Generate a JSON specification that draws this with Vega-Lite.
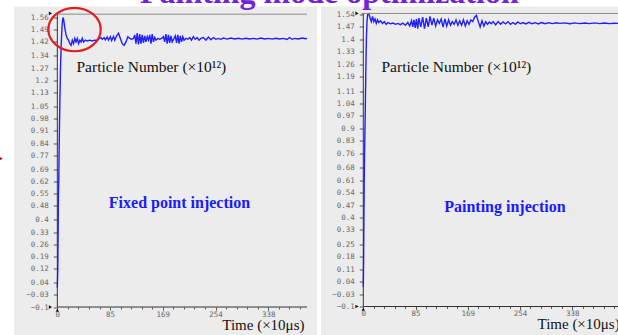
{
  "$schema": "https://vega.github.io/schema/vega-lite/v6.json",
  "background": "white",
  "padding": {"left": -6, "top": -23.5, "right": 0, "bottom": 0},
  "title": {
    "text": "Painting mode optimization",
    "font": "Liberation Serif",
    "fontSize": 32,
    "fontWeight": "bold",
    "color": "#7422d6",
    "anchor": "start",
    "dx": 146,
    "baseline": "alphabetic",
    "offset": -31.5
  },
  "spacing": 4,
  "config": {
    "view": {"fill": "#ececec", "stroke": null},
    "axis": {
      "grid": false,
      "domain": false,
      "labelOverlap": false,
      "tickCount": 100,
      "labelFont": "DejaVu Sans Mono",
      "labelFontSize": 7.5,
      "labelColor": "#6a6a6a",
      "tickColor": "#555555",
      "titleFont": "Liberation Serif",
      "titleFontSize": 15,
      "titleFontWeight": "normal",
      "titleColor": "#111111"
    }
  },
  "datasets": {
    "fixed": [
      {"t": 0, "v": 0.01}, {"t": 0.8, "v": 0.12}, {"t": 1.2, "v": 0.3}, {"t": 1.8, "v": 0.55},
      {"t": 2.3, "v": 0.62}, {"t": 2.8, "v": 0.78}, {"t": 3.5, "v": 0.95}, {"t": 4.2, "v": 1.1},
      {"t": 5, "v": 1.25}, {"t": 6, "v": 1.38}, {"t": 7, "v": 1.47}, {"t": 8, "v": 1.53},
      {"t": 9, "v": 1.56}, {"t": 10, "v": 1.55}, {"t": 12, "v": 1.5}, {"t": 14, "v": 1.46},
      {"t": 16, "v": 1.44}, {"t": 18, "v": 1.43}, {"t": 20, "v": 1.41}, {"t": 22, "v": 1.4},
      {"t": 24, "v": 1.43}, {"t": 26, "v": 1.41}, {"t": 28, "v": 1.44}, {"t": 30, "v": 1.42},
      {"t": 32, "v": 1.44}, {"t": 34, "v": 1.41}, {"t": 36, "v": 1.43}, {"t": 38, "v": 1.42},
      {"t": 40, "v": 1.44}, {"t": 42, "v": 1.42}, {"t": 45, "v": 1.43}, {"t": 48, "v": 1.425},
      {"t": 52, "v": 1.43}, {"t": 56, "v": 1.425}, {"t": 60, "v": 1.43}, {"t": 64, "v": 1.428},
      {"t": 67, "v": 1.44}, {"t": 70, "v": 1.445}, {"t": 72, "v": 1.435}, {"t": 75, "v": 1.445},
      {"t": 77, "v": 1.432}, {"t": 80, "v": 1.448}, {"t": 82, "v": 1.43}, {"t": 85, "v": 1.45},
      {"t": 87, "v": 1.428}, {"t": 90, "v": 1.452}, {"t": 92, "v": 1.43}, {"t": 95, "v": 1.455},
      {"t": 98, "v": 1.47}, {"t": 101, "v": 1.44}, {"t": 104, "v": 1.41}, {"t": 107, "v": 1.4},
      {"t": 110, "v": 1.42}, {"t": 113, "v": 1.45}, {"t": 116, "v": 1.44}, {"t": 119, "v": 1.435},
      {"t": 122, "v": 1.44}, {"t": 124, "v": 1.46}, {"t": 126, "v": 1.41}, {"t": 128, "v": 1.47},
      {"t": 130, "v": 1.405}, {"t": 132, "v": 1.465}, {"t": 134, "v": 1.41}, {"t": 136, "v": 1.46},
      {"t": 138, "v": 1.415}, {"t": 140, "v": 1.455}, {"t": 142, "v": 1.42}, {"t": 144, "v": 1.45},
      {"t": 146, "v": 1.43}, {"t": 148, "v": 1.46}, {"t": 150, "v": 1.41}, {"t": 152, "v": 1.465},
      {"t": 154, "v": 1.42}, {"t": 156, "v": 1.445}, {"t": 158, "v": 1.43}, {"t": 161, "v": 1.44},
      {"t": 164, "v": 1.435}, {"t": 167, "v": 1.44}, {"t": 170, "v": 1.45}, {"t": 172, "v": 1.42},
      {"t": 174, "v": 1.465}, {"t": 176, "v": 1.41}, {"t": 178, "v": 1.46}, {"t": 180, "v": 1.415},
      {"t": 182, "v": 1.455}, {"t": 184, "v": 1.42}, {"t": 187, "v": 1.44}, {"t": 189, "v": 1.455},
      {"t": 191, "v": 1.415}, {"t": 193, "v": 1.46}, {"t": 195, "v": 1.41}, {"t": 197, "v": 1.455},
      {"t": 199, "v": 1.42}, {"t": 201, "v": 1.45}, {"t": 203, "v": 1.43}, {"t": 206, "v": 1.44},
      {"t": 209, "v": 1.435}, {"t": 212, "v": 1.445}, {"t": 215, "v": 1.43}, {"t": 218, "v": 1.45},
      {"t": 221, "v": 1.435}, {"t": 224, "v": 1.445}, {"t": 227, "v": 1.43}, {"t": 230, "v": 1.44},
      {"t": 234, "v": 1.445}, {"t": 238, "v": 1.43}, {"t": 242, "v": 1.448}, {"t": 246, "v": 1.432},
      {"t": 250, "v": 1.445}, {"t": 254, "v": 1.435}, {"t": 258, "v": 1.44}, {"t": 262, "v": 1.435},
      {"t": 266, "v": 1.442}, {"t": 272, "v": 1.436}, {"t": 278, "v": 1.442}, {"t": 284, "v": 1.437},
      {"t": 290, "v": 1.441}, {"t": 296, "v": 1.436}, {"t": 302, "v": 1.441}, {"t": 308, "v": 1.437},
      {"t": 314, "v": 1.44}, {"t": 320, "v": 1.436}, {"t": 326, "v": 1.442}, {"t": 332, "v": 1.437},
      {"t": 338, "v": 1.44}, {"t": 344, "v": 1.436}, {"t": 350, "v": 1.441}, {"t": 356, "v": 1.437},
      {"t": 362, "v": 1.44}, {"t": 368, "v": 1.434}, {"t": 372, "v": 1.445}, {"t": 376, "v": 1.435},
      {"t": 380, "v": 1.44}, {"t": 386, "v": 1.437}, {"t": 392, "v": 1.442}, {"t": 398, "v": 1.438},
      {"t": 400, "v": 1.44}
    ],
    "painting": [
      {"t": 0, "v": 0.01}, {"t": 0.5, "v": 0.15}, {"t": 1, "v": 0.4}, {"t": 1.5, "v": 0.6},
      {"t": 2, "v": 0.75}, {"t": 3, "v": 0.95}, {"t": 4, "v": 1.2}, {"t": 5, "v": 1.4},
      {"t": 6, "v": 1.5}, {"t": 7, "v": 1.54}, {"t": 9, "v": 1.545}, {"t": 11, "v": 1.52},
      {"t": 13, "v": 1.5}, {"t": 15, "v": 1.53}, {"t": 17, "v": 1.5}, {"t": 19, "v": 1.515},
      {"t": 21, "v": 1.49}, {"t": 23, "v": 1.51}, {"t": 25, "v": 1.495}, {"t": 28, "v": 1.505},
      {"t": 31, "v": 1.49}, {"t": 34, "v": 1.5}, {"t": 37, "v": 1.485}, {"t": 40, "v": 1.495},
      {"t": 44, "v": 1.488}, {"t": 48, "v": 1.492}, {"t": 52, "v": 1.485}, {"t": 56, "v": 1.49},
      {"t": 60, "v": 1.483}, {"t": 64, "v": 1.492}, {"t": 68, "v": 1.48}, {"t": 72, "v": 1.495},
      {"t": 75, "v": 1.475}, {"t": 78, "v": 1.505}, {"t": 80, "v": 1.47}, {"t": 82, "v": 1.51},
      {"t": 84, "v": 1.465}, {"t": 86, "v": 1.515}, {"t": 88, "v": 1.46}, {"t": 90, "v": 1.52},
      {"t": 93, "v": 1.47}, {"t": 96, "v": 1.525}, {"t": 99, "v": 1.46}, {"t": 102, "v": 1.52},
      {"t": 105, "v": 1.47}, {"t": 108, "v": 1.53}, {"t": 111, "v": 1.48}, {"t": 114, "v": 1.52},
      {"t": 117, "v": 1.475}, {"t": 120, "v": 1.51}, {"t": 123, "v": 1.49}, {"t": 126, "v": 1.515},
      {"t": 129, "v": 1.47}, {"t": 132, "v": 1.515}, {"t": 135, "v": 1.475}, {"t": 138, "v": 1.51},
      {"t": 141, "v": 1.48}, {"t": 144, "v": 1.5}, {"t": 147, "v": 1.485}, {"t": 150, "v": 1.51},
      {"t": 153, "v": 1.48}, {"t": 156, "v": 1.505}, {"t": 159, "v": 1.48}, {"t": 162, "v": 1.51},
      {"t": 165, "v": 1.475}, {"t": 168, "v": 1.505}, {"t": 171, "v": 1.485}, {"t": 174, "v": 1.51},
      {"t": 177, "v": 1.5}, {"t": 180, "v": 1.525}, {"t": 183, "v": 1.535}, {"t": 186, "v": 1.5},
      {"t": 189, "v": 1.47}, {"t": 192, "v": 1.505}, {"t": 195, "v": 1.475}, {"t": 198, "v": 1.5},
      {"t": 201, "v": 1.485}, {"t": 204, "v": 1.498}, {"t": 207, "v": 1.488}, {"t": 210, "v": 1.5},
      {"t": 214, "v": 1.482}, {"t": 218, "v": 1.5}, {"t": 222, "v": 1.485}, {"t": 226, "v": 1.498},
      {"t": 230, "v": 1.487}, {"t": 234, "v": 1.5}, {"t": 238, "v": 1.485}, {"t": 242, "v": 1.495},
      {"t": 246, "v": 1.485}, {"t": 250, "v": 1.498}, {"t": 254, "v": 1.488}, {"t": 258, "v": 1.495},
      {"t": 263, "v": 1.487}, {"t": 268, "v": 1.496}, {"t": 273, "v": 1.488}, {"t": 278, "v": 1.494},
      {"t": 283, "v": 1.487}, {"t": 288, "v": 1.495}, {"t": 294, "v": 1.488}, {"t": 300, "v": 1.494},
      {"t": 306, "v": 1.489}, {"t": 312, "v": 1.494}, {"t": 318, "v": 1.49}, {"t": 326, "v": 1.493},
      {"t": 334, "v": 1.488}, {"t": 342, "v": 1.493}, {"t": 350, "v": 1.489}, {"t": 358, "v": 1.492},
      {"t": 366, "v": 1.489}, {"t": 374, "v": 1.493}, {"t": 382, "v": 1.489}, {"t": 390, "v": 1.492},
      {"t": 398, "v": 1.489}, {"t": 406, "v": 1.491}, {"t": 412, "v": 1.49}
    ]
  },
  "hconcat": [
    {
      "width": 303,
      "height": 330,
      "layer": [
        {
          "data": {"name": "fixed"},
          "mark": {"type": "line", "color": "#1f1fff", "strokeWidth": 1.4},
          "encoding": {
            "x": {
              "field": "t", "type": "quantitative",
              "scale": {"domain": [-69.4, 416], "nice": false, "zero": false},
              "axis": {
                "orient": "bottom", "offset": -29.5,
                "tickCount": 100,
                "values": [0, 16.9, 33.8, 50.7, 67.6, 84.5, 101.4, 118.3, 135.2, 152.1, 169, 185.9, 202.8, 219.7, 236.6, 253.5, 270.4, 287.3, 304.2, 321.1, 338, 354.9, 371.8, 388.7],
                "labelExpr": "abs(datum.value / 84.5 - round(datum.value / 84.5)) < 0.01 ? format(datum.value, '.0f') : ''",
                "tickSize": {"condition": {"test": "abs(datum.value / 84.5 - round(datum.value / 84.5)) < 0.01", "value": 3}, "value": 2},
                "labelPadding": 0,
                "labelBaseline": "top",
                "title": "Time (×10μs)",
                "titleX": 290, "titleY": 22.5,
                "titleAlign": "right", "titleBaseline": "alphabetic"
              }
            },
            "y": {
              "field": "v", "type": "quantitative",
              "scale": {"domain": [-0.269, 1.623], "nice": false, "zero": false},
              "axis": {
                "orient": "left", "offset": -43.3,
                "tickCount": 100,
                "values": [-0.1, -0.03, 0.04, 0.12, 0.19, 0.26, 0.33, 0.4, 0.48, 0.55, 0.62, 0.69, 0.77, 0.84, 0.91, 0.98, 1.05, 1.13, 1.2, 1.27, 1.34, 1.42, 1.49, 1.56],
                "format": ".2~f",
                "tickSize": 4,
                "labelPadding": 5,
                "title": "Particle Number (×10¹²)",
                "titleFontSize": 15.5,
                "titleAngle": 0,
                "titleX": 18.7, "titleY": 65,
                "titleAlign": "left", "titleBaseline": "alphabetic"
              }
            }
          }
        },
        {
          "data": {"values": [{}]},
          "mark": {"type": "rule", "color": "#333333", "strokeWidth": 1},
          "encoding": {"x": {"datum": 0}, "x2": {"datum": 400}, "y": {"datum": -0.1}}
        },
        {
          "data": {"values": [{}]},
          "mark": {"type": "rule", "color": "#333333", "strokeWidth": 1},
          "encoding": {"x": {"datum": 0}, "y": {"datum": -0.1}, "y2": {"datum": 1.583}}
        },
        {
          "data": {"values": [{}]},
          "mark": {"type": "rule", "color": "#8c8c8c", "strokeWidth": 1},
          "encoding": {"x": {"datum": -3}, "x2": {"datum": 400}, "y": {"datum": 1.579}}
        },
        {
          "data": {"values": [{"t": -11, "v": 1.583}, {"t": -11, "v": -0.1}]},
          "mark": {"type": "point", "shape": "triangle-right", "filled": true, "color": "#111111", "size": 14, "opacity": 1},
          "encoding": {"x": {"field": "t", "type": "quantitative"}, "y": {"field": "v", "type": "quantitative"}}
        },
        {
          "data": {"values": [{"t": 0, "v": -0.118}]},
          "mark": {"type": "point", "shape": "triangle-up", "filled": true, "color": "#111111", "size": 12, "opacity": 1},
          "encoding": {"x": {"field": "t", "type": "quantitative"}, "y": {"field": "v", "type": "quantitative"}}
        },
        {
          "data": {"values": [{}]},
          "mark": {
            "type": "point",
            "shape": "M-1,0A1,0.83,0,1,1,1,0A1,0.83,0,1,1,-1,0Z",
            "filled": false, "stroke": "#e0201e", "strokeWidth": 2.2, "size": 2746, "opacity": 1
          },
          "encoding": {"x": {"datum": 27.6}, "y": {"datum": 1.491}}
        },
        {
          "data": {"values": [{}]},
          "mark": {"type": "point", "shape": "triangle-right", "filled": true, "color": "#c0000c", "size": 100, "opacity": 1},
          "encoding": {"x": {"datum": -94.5}, "y": {"datum": 0.751}}
        },
        {
          "data": {"values": [{}]},
          "mark": {"type": "text", "font": "Liberation Serif", "fontSize": 16, "fontWeight": "bold", "color": "#1a1aff", "align": "center", "baseline": "alphabetic"},
          "encoding": {"x": {"datum": 195.7}, "y": {"datum": 0.4705}, "text": {"value": "Fixed point injection"}}
        }
      ]
    },
    {
      "width": 300,
      "height": 330,
      "layer": [
        {
          "data": {"name": "painting"},
          "mark": {"type": "line", "color": "#1f1fff", "strokeWidth": 1.4},
          "encoding": {
            "x": {
              "field": "t", "type": "quantitative",
              "scale": {"domain": [-68.4, 416.8], "nice": false, "zero": false},
              "axis": {
                "orient": "bottom", "offset": -30.1,
                "tickCount": 100,
                "values": [0, 16.9, 33.8, 50.7, 67.6, 84.5, 101.4, 118.3, 135.2, 152.1, 169, 185.9, 202.8, 219.7, 236.6, 253.5, 270.4, 287.3, 304.2, 321.1, 338, 354.9, 371.8, 388.7, 405.6],
                "labelExpr": "abs(datum.value / 84.5 - round(datum.value / 84.5)) < 0.01 ? format(datum.value, '.0f') : ''",
                "tickSize": {"condition": {"test": "abs(datum.value / 84.5 - round(datum.value / 84.5)) < 0.01", "value": 3}, "value": 2},
                "labelPadding": 0,
                "labelBaseline": "top",
                "title": "Time (×10μs)",
                "titleX": 216, "titleY": 22.5,
                "titleAlign": "left", "titleBaseline": "alphabetic"
              }
            },
            "y": {
              "field": "v", "type": "quantitative",
              "scale": {"domain": [-0.2685, 1.585], "nice": false, "zero": false},
              "axis": {
                "orient": "left", "offset": -42.3,
                "tickCount": 100,
                "values": [-0.1, -0.03, 0.04, 0.11, 0.18, 0.25, 0.33, 0.4, 0.47, 0.54, 0.61, 0.68, 0.76, 0.83, 0.9, 0.97, 1.04, 1.11, 1.19, 1.26, 1.33, 1.4, 1.47, 1.54],
                "format": ".2~f",
                "tickSize": 4,
                "labelPadding": 5,
                "title": "Particle Number (×10¹²)",
                "titleFontSize": 15.5,
                "titleAngle": 0,
                "titleX": 17.7, "titleY": 65,
                "titleAlign": "left", "titleBaseline": "alphabetic"
              }
            }
          }
        },
        {
          "data": {"values": [{}]},
          "mark": {"type": "rule", "color": "#333333", "strokeWidth": 1},
          "encoding": {"x": {"datum": 0}, "x2": {"datum": 416.8}, "y": {"datum": -0.1}}
        },
        {
          "data": {"values": [{}]},
          "mark": {"type": "rule", "color": "#333333", "strokeWidth": 1},
          "encoding": {"x": {"datum": 0}, "y": {"datum": -0.1}, "y2": {"datum": 1.546}}
        },
        {
          "data": {"values": [{}]},
          "mark": {"type": "rule", "color": "#8c8c8c", "strokeWidth": 1},
          "encoding": {"x": {"datum": -3}, "x2": {"datum": 416.8}, "y": {"datum": 1.546}}
        },
        {
          "data": {"values": [{"t": -10.2, "v": 1.546}, {"t": -10.2, "v": -0.1}]},
          "mark": {"type": "point", "shape": "triangle-right", "filled": true, "color": "#111111", "size": 14, "opacity": 1},
          "encoding": {"x": {"field": "t", "type": "quantitative"}, "y": {"field": "v", "type": "quantitative"}}
        },
        {
          "data": {"values": [{"t": 0, "v": -0.115}]},
          "mark": {"type": "point", "shape": "triangle-up", "filled": true, "color": "#111111", "size": 12, "opacity": 1},
          "encoding": {"x": {"field": "t", "type": "quantitative"}, "y": {"field": "v", "type": "quantitative"}}
        },
        {
          "data": {"values": [{}]},
          "mark": {"type": "text", "font": "Liberation Serif", "fontSize": 16, "fontWeight": "bold", "color": "#1a1aff", "align": "center", "baseline": "alphabetic"},
          "encoding": {"x": {"datum": 229}, "y": {"datum": 0.428}, "text": {"value": "Painting injection"}}
        }
      ]
    }
  ]
}
